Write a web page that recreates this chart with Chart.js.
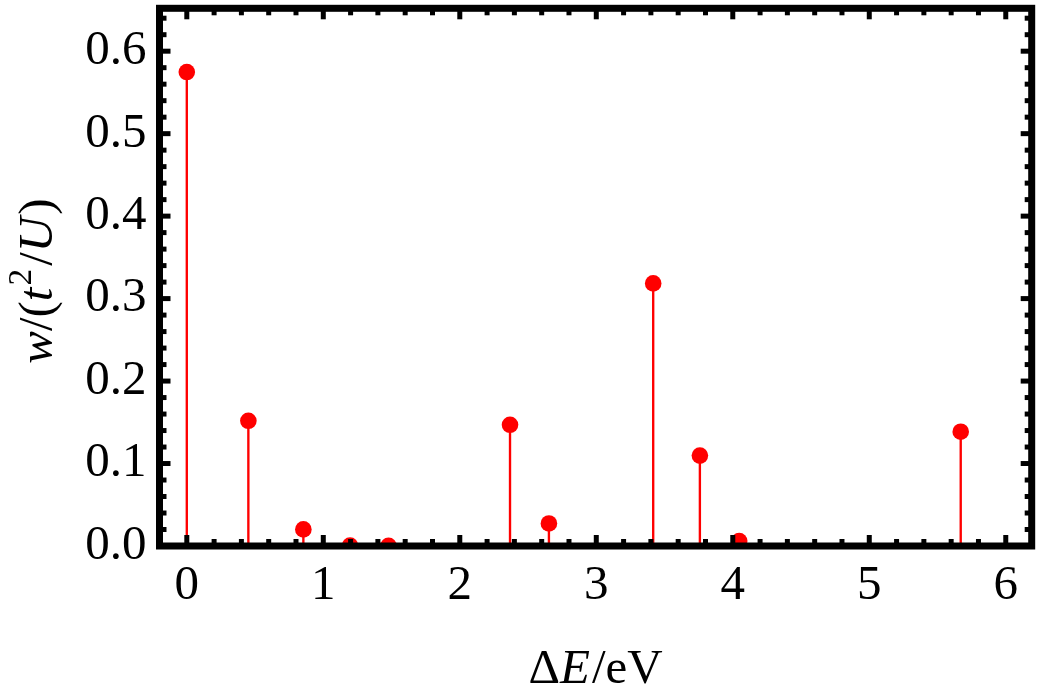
<!DOCTYPE html>
<html>
<head>
<meta charset="utf-8">
<script src="https://cdn.jsdelivr.net/npm/chart.js@4.4.0/dist/chart.umd.min.js"></script>
<style>
  html, body { margin: 0; padding: 0; background: #fff; }
  #target { display: block; }
</style>
</head>
<body>
<canvas id="target" width="1040" height="696"></canvas>
<script>
// 横軸: エネルギー差 ΔE (eV)
var energies = [0.0, 0.451, 0.854, 1.196, 1.478, 2.368, 2.653, 3.417, 3.759, 4.047, 5.670];
// 縦軸: 重み w/(t^2/U)
var weights = [0.5747, 0.1518, 0.0201, 0.0004, 0.0002, 0.147, 0.0273, 0.3184, 0.1096, 0.006, 0.1386];

var xTickValues = [0, 1, 2, 3, 4, 5, 6];
var yTickValues = [0.0, 0.1, 0.2, 0.3, 0.4, 0.5, 0.6];

var X_MIN = -0.2, X_MAX = 6.19;
var Y_MIN = 0, Y_MAX = 0.652;

var FONT = '"Liberation Serif", "Times New Roman", serif';
var FONT_SIZE = 49;

// 点と縦線のデータ
var points = energies.map(function (e, i) { return { x: e, y: weights[i] }; });

// 枠と目盛り（内向き）
function drawFrame(chart) {
  var ctx = chart.ctx, a = chart.chartArea;
  var xs = chart.scales.x, ys = chart.scales.y;

  function seg(x1, y1, x2, y2) {
    ctx.beginPath();
    ctx.moveTo(x1, y1);
    ctx.lineTo(x2, y2);
    ctx.stroke();
  }

  ctx.save();
  ctx.strokeStyle = '#000';
  ctx.lineCap = 'butt';
  ctx.lineWidth = 5;

  // x 目盛り 0.2 ごと
  for (var i = Math.ceil(X_MIN / 0.2); i * 0.2 <= X_MAX + 1e-9; i++) {
    var px = xs.getPixelForValue(i * 0.2);
    if (px < a.left + 4 || px > a.right - 4) continue;
    var len = (i % 5 === 0) ? 11 : 7;
    seg(px, a.bottom, px, a.bottom - len);
    seg(px, a.top, px, a.top + len);
  }
  // y 目盛り 0.02 ごと
  for (var j = 0; j * 0.02 <= Y_MAX + 1e-9; j++) {
    var py = ys.getPixelForValue(j * 0.02);
    if (py < a.top + 4 || py > a.bottom - 4) continue;
    var len2 = (j % 5 === 0) ? 11 : 7;
    seg(a.left, py, a.left + len2, py);
    seg(a.right, py, a.right - len2, py);
  }

  ctx.lineWidth = 7;
  ctx.strokeRect(a.left, a.top, a.right - a.left, a.bottom - a.top);
  ctx.restore();
}

// 斜体・上付きを含む軸ラベル
function drawParts(ctx, parts, cx, baseY) {
  var widths = parts.map(function (p) {
    ctx.font = (p.it ? 'italic ' : '') + (p.sup ? FONT_SIZE * 0.68 : FONT_SIZE) + 'px ' + FONT;
    return ctx.measureText(p.t).width + (p.kern || 0);
  });
  var total = widths.reduce(function (s, w) { return s + w; }, 0);
  var x = cx - total / 2;
  ctx.textBaseline = 'alphabetic';
  ctx.textAlign = 'left';
  parts.forEach(function (p, k) {
    ctx.font = (p.it ? 'italic ' : '') + (p.sup ? FONT_SIZE * 0.68 : FONT_SIZE) + 'px ' + FONT;
    ctx.fillText(p.t, x, baseY - (p.sup ? FONT_SIZE * 0.42 : 0));
    x += widths[k];
  });
}

var titlePlugin = {
  id: 'titles',
  afterDatasetsDraw: function (chart) {
    drawFrame(chart);
    var ctx = chart.ctx, a = chart.chartArea;
    ctx.save();
    ctx.fillStyle = '#000';
    drawParts(ctx, [
      { t: 'Δ' }, { t: 'E', it: true, kern: 2 }, { t: '/eV' }
    ], (a.left + a.right) / 2, 683);

    ctx.translate(52, (a.top + a.bottom) / 2 + 4);
    ctx.rotate(-Math.PI / 2);
    drawParts(ctx, [
      { t: 'w', it: true }, { t: '/(' }, { t: 't', it: true, kern: 2 },
      { t: '2', sup: true, kern: 3 }, { t: '/' }, { t: 'U', it: true, kern: 2 }, { t: ')' }
    ], 0, 0);
    ctx.restore();
  }
};

new Chart(document.getElementById('target').getContext('2d'), {
  type: 'scatter',
  data: {
    datasets: [{
      type: 'bar',
      data: points,
      backgroundColor: '#ff0000',
      borderWidth: 0,
      barThickness: 1.7,
      grouped: false
    }, {
      type: 'scatter',
      data: points,
      pointRadius: 8.3,
      pointHoverRadius: 8.3,
      pointBackgroundColor: '#ff0000',
      pointBorderWidth: 0,
      showLine: false
    }]
  },
  options: {
    responsive: false,
    animation: false,
    devicePixelRatio: 1,
    layout: { padding: { top: 4, right: 8, left: 0, bottom: 0 } },
    plugins: { legend: { display: false }, tooltip: { enabled: false } },
    scales: {
      x: {
        type: 'linear',
        min: X_MIN,
        max: X_MAX,
        offset: false,
        grid: { display: false, drawTicks: false, offset: false },
        border: { display: false },
        afterBuildTicks: function (scale) {
          scale.ticks = xTickValues.map(function (v) { return { value: v }; });
        },
        afterFit: function (scale) {
          scale.height = 150;
          scale.paddingLeft = 0;
          scale.paddingRight = 0;
        },
        ticks: {
          padding: 11,
          color: '#000',
          font: { family: FONT, size: FONT_SIZE },
          maxRotation: 0,
          callback: function (v) { return String(v); }
        }
      },
      y: {
        type: 'linear',
        min: Y_MIN,
        max: Y_MAX,
        grid: { display: false, drawTicks: false },
        border: { display: false },
        afterBuildTicks: function (scale) {
          scale.ticks = yTickValues.map(function (v) { return { value: v }; });
        },
        afterFit: function (scale) {
          scale.width = 159.5;
          scale.paddingTop = 0;
          scale.paddingBottom = 0;
        },
        ticks: {
          padding: 13,
          color: '#000',
          font: { family: FONT, size: FONT_SIZE },
          callback: function (v) { return v.toFixed(1); }
        }
      }
    }
  },
  plugins: [titlePlugin]
});
</script>
</body>
</html>
